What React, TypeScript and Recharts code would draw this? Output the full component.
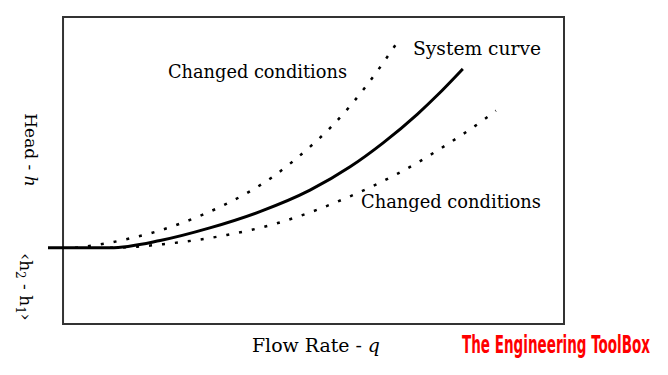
import React from "react";
import { LineChart, Line, XAxis, YAxis, ReferenceArea, Customized } from "recharts";

// Flow (x) and head (y) in relative units; box spans 0..100 on both axes.
const systemFlow = [-3, 9.4, 19.4, 29.3, 39.3, 49.3, 57.3, 63.9, 70.7, 74.7, 79.8];
const systemHead = [24.8, 24.8, 27.2, 31.3, 36.6, 43.6, 51.2, 59.0, 68.3, 74.5, 83.1];

const upperFlow = [2.4, 8.4, 13.4, 18.4, 23.4, 27.9, 32.7, 37.3, 41.9, 45.9, 49.9, 53.7, 57.3, 60.5, 63.7, 66.7];
const upperHead = [24.8, 26.2, 27.9, 30.0, 32.7, 35.6, 39.2, 43.2, 48.0, 53.0, 58.6, 64.5, 71.0, 77.5, 84.6, 91.7];

const lowerFlow = [9.4, 14.8, 20.0, 27.3, 32.7, 37.7, 42.7, 47.3, 50.7, 57.3, 61.3, 66.7, 70.9, 75.6, 79.8, 84.2, 86.4];
const lowerHead = [24.8, 25.2, 26.0, 27.5, 29.0, 30.7, 32.8, 35.2, 37.2, 41.6, 44.5, 48.9, 52.7, 57.4, 61.8, 66.8, 69.5];

const xDomain = [-3, 100];
const yDomain = [0, 100];

const zip = (xs: number[], ys: number[]) => xs.map((x, i) => ({ x, y: ys[i] }));

const systemData = zip(systemFlow, systemHead);
const upperData = zip(upperFlow, upperHead);
const lowerData = zip(lowerFlow, lowerHead);

const SERIF = "'DejaVu Serif', 'Liberation Serif', serif";
const LOGO_SX = 0.58;

const Annotations = () => (
  <g fontFamily={SERIF} fill="#000" fontSize={18}>
    <text x={168} y={78} textLength={179} lengthAdjust="spacingAndGlyphs">Changed conditions</text>
    <text x={413} y={55} textLength={128} lengthAdjust="spacingAndGlyphs">System curve</text>
    <text x={361} y={208} textLength={180} lengthAdjust="spacingAndGlyphs">Changed conditions</text>
    <text x={252} y={352} textLength={128} lengthAdjust="spacingAndGlyphs">
      Flow Rate - <tspan fontStyle="italic">q</tspan>
    </text>
    <text x={25} y={150} textAnchor="middle" fontSize={17} transform="rotate(90, 25, 150)">
      Head - <tspan fontStyle="italic">h</tspan>
    </text>
    <text x={20} y={287} textAnchor="middle" fontSize={17} transform="rotate(90, 20, 287)">
      ‹h<tspan fontSize={12} dy={4}>2</tspan><tspan dy={-4}> - h</tspan><tspan fontSize={12} dy={4}>1</tspan><tspan dy={-4}>›</tspan>
    </text>
    <g transform={`translate(462, 353) scale(${LOGO_SX}, 1)`}>
      <text
        x={0}
        y={0}
        fill="#ff0000"
        fontFamily="'DejaVu Sans Condensed', 'Liberation Sans Narrow', sans-serif"
        fontWeight="bold"
        fontSize={24}
        textLength={188 / LOGO_SX}
        lengthAdjust="spacingAndGlyphs"
      >
        The Engineering ToolBox
      </text>
    </g>
  </g>
);

export default function App() {
  return (
    <div style={{ position: "absolute", left: 0, top: 0, width: 668, height: 375, background: "#fff" }}>
      <LineChart width={668} height={375} margin={{ top: 17, right: 104, bottom: 51, left: 48 }}>
        <XAxis type="number" dataKey="x" domain={xDomain} hide allowDataOverflow />
        <YAxis type="number" dataKey="y" domain={yDomain} hide allowDataOverflow />
        <ReferenceArea x1={0} x2={100} y1={0} y2={100} fill="none" stroke="#333" strokeWidth={2} ifOverflow="visible" />
        <Line
          data={upperData}
          dataKey="y"
          type="monotone"
          stroke="#000"
          strokeWidth={2.5}
          strokeDasharray="3 10"
          dot={false}
          activeDot={false}
          isAnimationActive={false}
        />
        <Line
          data={lowerData}
          dataKey="y"
          type="monotone"
          stroke="#000"
          strokeWidth={2.5}
          strokeDasharray="3 10"
          dot={false}
          activeDot={false}
          isAnimationActive={false}
        />
        <Line
          data={systemData}
          dataKey="y"
          type="monotone"
          stroke="#000"
          strokeWidth={3}
          dot={false}
          activeDot={false}
          isAnimationActive={false}
        />
        <Customized component={Annotations} />
      </LineChart>
    </div>
  );
}
